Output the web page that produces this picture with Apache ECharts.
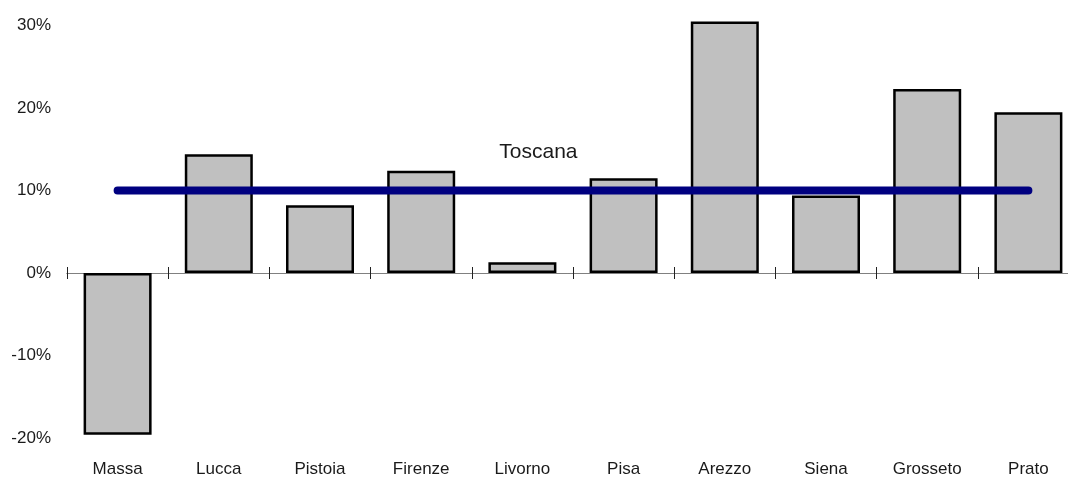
<!DOCTYPE html>
<html>
<head>
<meta charset="utf-8">
<script src="https://cdn.jsdelivr.net/npm/echarts@6/dist/echarts.min.js"></script>
<style>
  html, body { margin: 0; padding: 0; background: #ffffff; }
  #chart { width: 1068px; height: 477px; }
</style>
</head>
<body>
<div id="chart"></div>
<script>
// Provinces of Tuscany and their percentage change
const provinces = ['Massa', 'Lucca', 'Pistoia', 'Firenze', 'Livorno', 'Pisa', 'Arezzo', 'Siena', 'Grosseto', 'Prato'];
const changes = [-19.6, 14.4, 8.2, 12.4, 1.3, 11.5, 30.5, 9.4, 22.3, 19.5];
// Regional reference value, drawn as a flat line across all provinces
const toscanaValue = 10.0;
const toscanaLine = provinces.map(() => toscanaValue);
const toscanaLabel = 'Toscana';
const yTicks = { min: -20, max: 30, step: 10 };

const font = '"Liberation Sans", Arial, sans-serif';

const chart = echarts.init(document.getElementById('chart'), null, { renderer: 'canvas' });

// Two category axes share the zero line: one carries ticks downward,
// the other upward, so the boundary ticks cross the axis.
const tickStyle = { color: '#222', width: 1 };

chart.setOption({
  animation: false,
  backgroundColor: '#ffffff',
  grid: {
    left: 67, width: 1012, top: 25.5, bottom: 39,
    containLabel: false,
    outerBoundsMode: 'none'
  },
  xAxis: [
    {
      type: 'category',
      data: provinces,
      position: 'bottom',
      axisLine: { onZero: true, onZeroAxisIndex: 0, lineStyle: { color: '#808080', width: 1 } },
      axisTick: { show: true, length: 6, inside: false, lineStyle: tickStyle },
      splitLine: { show: false },
      axisLabel: {
        show: true,
        interval: 0,
        margin: 23,
        color: '#1a1a1a',
        fontFamily: font,
        fontSize: 17
      }
    },
    {
      type: 'category',
      data: provinces,
      position: 'top',
      axisLine: { onZero: true, onZeroAxisIndex: 1, lineStyle: { color: '#808080', width: 1 } },
      axisTick: { show: true, length: 6, inside: false, lineStyle: tickStyle },
      splitLine: { show: false },
      axisLabel: { show: false }
    }
  ],
  yAxis: [
    {
      type: 'value',
      min: yTicks.min,
      max: yTicks.max,
      interval: yTicks.step,
      axisLine: { show: false },
      axisTick: { show: false },
      splitLine: { show: false },
      axisLabel: {
        color: '#1a1a1a',
        fontFamily: font,
        fontSize: 17,
        margin: 16,
        formatter: v => v + '%'
      }
    },
    {
      type: 'value',
      min: yTicks.min,
      max: yTicks.max,
      interval: yTicks.step,
      axisLine: { show: false },
      axisTick: { show: false },
      splitLine: { show: false },
      axisLabel: { show: false }
    }
  ],
  series: [
    {
      type: 'bar',
      xAxisIndex: 0,
      yAxisIndex: 0,
      data: changes,
      barWidth: 68,
      clip: false,
      itemStyle: { color: '#c0c0c0', borderColor: '#000000', borderWidth: 2.5 },
      z: 2
    },
    {
      type: 'line',
      xAxisIndex: 0,
      yAxisIndex: 0,
      data: toscanaLine,
      symbol: 'none',
      clip: false,
      lineStyle: { color: '#000080', width: 8, cap: 'round' },
      z: 3,
      markPoint: {
        symbol: 'circle',
        symbolSize: 0,
        silent: true,
        data: [{ coord: [4, toscanaValue] }],
        label: {
          show: true,
          position: 'inside',
          offset: [16, -38],
          formatter: toscanaLabel,
          color: '#1a1a1a',
          fontFamily: font,
          fontSize: 21
        }
      }
    }
  ]
});
</script>
</body>
</html>
